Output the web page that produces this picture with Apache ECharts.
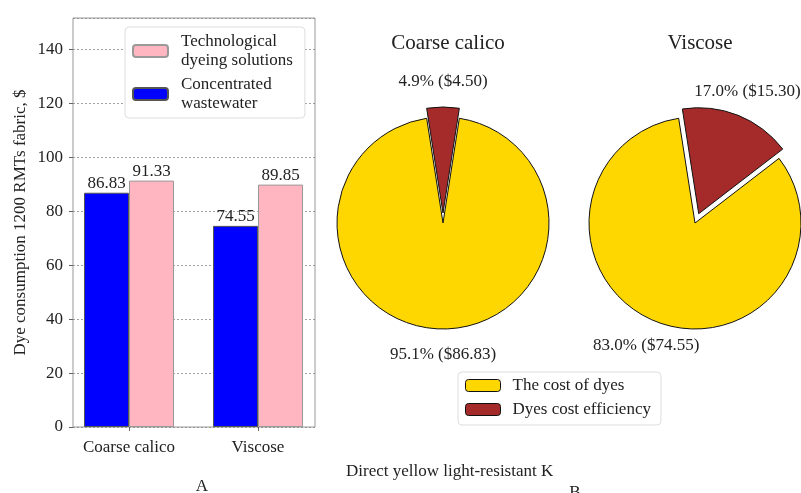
<!DOCTYPE html>
<html>
<head>
<meta charset="utf-8">
<script src="https://cdn.jsdelivr.net/npm/echarts@6/dist/echarts.min.js"></script>
<style>
  html, body { margin: 0; padding: 0; background: #fff; }
  #chart { width: 801px; height: 493px; }
</style>
</head>
<body>
<div id="chart"></div>
<script>
const fabrics = ['Coarse calico', 'Viscose']
const wastewater = [86.83, 74.55]
const technological = [91.33, 89.85]
const dyeCost = [86.83, 74.55]
const costEfficiency = [4.50, 15.30]
const yTicks = [0, 20, 40, 60, 80, 100, 120, 140]

const FONT = 'Liberation Serif'
const TXT = '#222'
const FS = 17
const YELLOW = '#ffd700'
const BROWN = '#a52a2a'

// pie geometry
const pieR = 106
const pieCY = 223
const pieCX = [443, 695]
const explode = 10
const pieStart = 90 + (costEfficiency[0] / (costEfficiency[0] + dyeCost[0])) * 180

function midAngle (idx, k) {
  const vals = [costEfficiency[idx], dyeCost[idx]]
  const total = vals[0] + vals[1]
  let a = pieStart
  for (let i = 0; i < k; i++) a -= vals[i] / total * 360
  return (a - vals[k] / total * 180) * Math.PI / 180
}

// one pie drawn as two series: the base (yellow) and the pulled-out wedge (brown)
function pieSeries (idx, k) {
  const total = costEfficiency[idx] + dyeCost[idx]
  const fmt = v => (v / total * 100).toFixed(1) + '% ($' + v.toFixed(2) + ')'
  const shift = k === 0 ? explode : 0
  const m = midAngle(idx, k)
  const cx = pieCX[idx] + shift * Math.cos(m)
  const cy = pieCY - shift * Math.sin(m)
  const hidden = { itemStyle: { color: 'transparent', borderWidth: 0 }, label: { show: false } }
  const items = [
    { name: 'Dyes cost efficiency', value: costEfficiency[idx], itemStyle: { color: BROWN } },
    { name: 'The cost of dyes', value: dyeCost[idx], itemStyle: { color: YELLOW } }
  ]
  const data = items.map((d, i) => i === k ? d : Object.assign({}, d, hidden))
  return {
    type: 'pie',
    center: [cx, cy],
    radius: pieR,
    startAngle: pieStart,
    clockwise: true,
    avoidLabelOverlap: false,
    animation: false,
    silent: true,
    itemStyle: { borderColor: '#111', borderWidth: 1 },
    label: {
      show: true,
      position: 'outside',
      fontFamily: FONT,
      fontSize: FS,
      color: TXT,
      formatter: p => fmt(p.value)
    },
    labelLine: { show: false },
    labelLayout: function (p) {
      const d = pieR * 1.24
      return { x: cx + d * Math.cos(m), y: cy - d * Math.sin(m), align: 'center', verticalAlign: 'middle' }
    },
    data: data
  }
}

const chart = echarts.init(document.getElementById('chart'), null, { renderer: 'canvas' })

const yAxisBase = { type: 'value', min: 0, max: 151.6, interval: 20 }
const textBase = { fontFamily: FONT, fontSize: FS, fontWeight: 'normal', color: TXT }

chart.setOption({
  animation: false,
  textStyle: { fontFamily: FONT },
  title: [
    { text: fabrics[0], left: pieCX[0], top: 28, textAlign: 'center', textStyle: Object.assign({}, textBase, { fontSize: 21 }) },
    { text: fabrics[1], left: pieCX[1], top: 28, textAlign: 'center', textStyle: Object.assign({}, textBase, { fontSize: 21 }) },
    { text: 'A', left: 197, top: 473, textAlign: 'center', textStyle: textBase },
    { text: 'Direct yellow light-resistant K', left: 341, top: 458, textStyle: textBase },
    { text: 'B', left: 570, top: 479, textAlign: 'center', textStyle: textBase }
  ],
  legend: [
    {
      data: ['Technological dyeing solutions', 'Concentrated wastewater'],
      orient: 'vertical',
      left: 125,
      top: 27,
      padding: [5, 12, 5, 7],
      itemGap: 5,
      itemWidth: 35,
      itemHeight: 12,
      backgroundColor: '#fff',
      borderColor: '#ddd',
      borderWidth: 1,
      borderRadius: 4,
      selectedMode: false,
      formatter: n => n === 'Technological dyeing solutions' ? 'Technological\ndyeing solutions' : 'Concentrated\nwastewater',
      textStyle: { fontFamily: FONT, fontSize: FS, color: TXT, lineHeight: 19, padding: [0, 0, 0, 8] }
    },
    {
      data: [
        { name: 'The cost of dyes', itemStyle: { color: YELLOW, borderColor: '#111', borderWidth: 1 } },
        { name: 'Dyes cost efficiency', itemStyle: { color: BROWN, borderColor: '#111', borderWidth: 1 } }
      ],
      orient: 'vertical',
      left: 458,
      top: 372,
      padding: [5, 10, 7, 7],
      itemGap: 7,
      itemWidth: 35,
      itemHeight: 12,
      backgroundColor: '#fff',
      borderColor: '#ddd',
      borderWidth: 1,
      borderRadius: 4,
      selectedMode: false,
      textStyle: { fontFamily: FONT, fontSize: FS, color: TXT, padding: [0, 0, 0, 7] }
    }
  ],
  grid: [
    { left: 73, right: 486, top: 18, bottom: 66, show: true, borderColor: '#999', borderWidth: 1, backgroundColor: 'transparent' },
    { left: 64.5, width: 258, top: 18, bottom: 66 }
  ],
  xAxis: [
    { type: 'category', gridIndex: 0, data: fabrics, show: false },
    {
      type: 'category',
      gridIndex: 1,
      data: fabrics,
      axisLine: { show: false },
      axisTick: { show: true, alignWithLabel: true, length: 4, lineStyle: { color: '#666' } },
      axisLabel: { fontFamily: FONT, fontSize: FS, color: TXT, margin: 12 }
    }
  ],
  yAxis: [
    Object.assign({}, yAxisBase, {
      gridIndex: 0,
      name: 'Dye consumption 1200 RMTs fabric, $',
      nameLocation: 'middle',
      nameRotate: 90,
      nameGap: 44,
      nameTextStyle: { fontFamily: FONT, fontSize: FS, color: TXT },
      axisLine: { show: false },
      axisTick: { show: true, length: 4, lineStyle: { color: '#666' } },
      axisLabel: {
        fontFamily: FONT, fontSize: FS, color: TXT, margin: 10,
        showMaxLabel: false,
        formatter: v => yTicks.includes(v) ? String(v) : ''
      },
      splitLine: { show: true, lineStyle: { color: '#888', type: [2, 2], width: 0.8 } }
    }),
    Object.assign({}, yAxisBase, { gridIndex: 1, show: false, splitLine: { show: false } })
  ],
  series: [
    {
      name: 'Concentrated wastewater',
      type: 'bar',
      xAxisIndex: 1,
      yAxisIndex: 1,
      data: wastewater,
      barWidth: 45,
      barGap: '0%',
      itemStyle: { color: '#0000ff', borderColor: '#555', borderWidth: 1 },
      label: { show: true, position: 'top', distance: 1, fontFamily: FONT, fontSize: FS, color: TXT, formatter: p => p.value.toFixed(2) },
      emphasis: { disabled: true }
    },
    {
      name: 'Technological dyeing solutions',
      type: 'bar',
      xAxisIndex: 1,
      yAxisIndex: 1,
      data: technological,
      barWidth: 45,
      barGap: '0%',
      itemStyle: { color: '#ffb6c1', borderColor: '#999', borderWidth: 1 },
      label: { show: true, position: 'top', distance: 1, fontFamily: FONT, fontSize: FS, color: TXT, formatter: p => p.value.toFixed(2) },
      emphasis: { disabled: true }
    },
    pieSeries(0, 1),
    pieSeries(0, 0),
    pieSeries(1, 1),
    pieSeries(1, 0)
  ]
})
</script>
</body>
</html>
